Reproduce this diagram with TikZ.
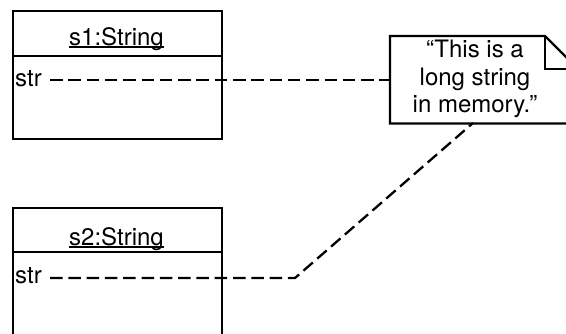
\documentclass[tikz,border=0pt]{standalone}
\usepackage{fontspec}
\setmainfont{TeX Gyre Heros}
\begin{document}
\begin{tikzpicture}[x=1pt,y=-1pt,
  objbox/.style={draw, line width=2.2pt, minimum width=209pt, minimum height=128pt, anchor=north west, inner sep=0pt},
  txt/.style={inner sep=0pt, anchor=base, font=\fontsize{24}{27.5}\selectfont},
  link/.style={line width=2.3pt, dash pattern=on 12.5pt off 5.8pt},
  uline/.style={line width=1.5pt}]
\useasboundingbox (0,0) rectangle (566,333);
\begin{scope}
\clip (0,0) rectangle (566,333);
% object 1
\node[objbox] (b1) at (12,10) {};
\draw[line width=2.2pt] (12,56) coordinate (d1a) -- (d1a -| b1.east);
\node[txt] (t1) at (116.5,45) {s1:String};
\draw[uline] ([yshift=-2pt]t1.base west) -- ([yshift=-2pt]t1.base east);
\node[txt, anchor=base west] (s1) at (15,86) {str};
% object 2
\node[objbox] (b2) at (12,207) {};
\draw[line width=2.2pt] (12,252) coordinate (d2a) -- (d2a -| b2.east);
\node[txt] (t2) at (116.5,245) {s2:String};
\draw[uline] ([yshift=-2pt]t2.base west) -- ([yshift=-2pt]t2.base east);
\node[txt, anchor=base west] (s2) at (15,283) {str};
% note
\node[minimum width=188pt, minimum height=87pt, anchor=north west, inner sep=0pt] (note) at (390,36) {};
\draw[line width=2.2pt, line join=miter, fill=white] (note.north west) -- (545,36) -- (578,69) -- (note.south east) -- (note.south west) -- cycle;
\draw[line width=1.6pt] (545,36) -- (545,69) -- (578,69);
\node[txt] (n1) at (475,57) {“This is a};
\node[txt] (n2) at (475,85) {long string};
\node[txt] (n3) at (475,112) {in memory.”};
% links
\coordinate (a1) at (50,80);
\draw[link] (a1) -- (a1 -| note.west);
\coordinate (a2) at (50,278);
\coordinate (k) at (295,278);
\coordinate (t) at (473,123);
\draw[link] (a2) -- (k) -- (t);
\end{scope}
\end{tikzpicture}
\end{document}
